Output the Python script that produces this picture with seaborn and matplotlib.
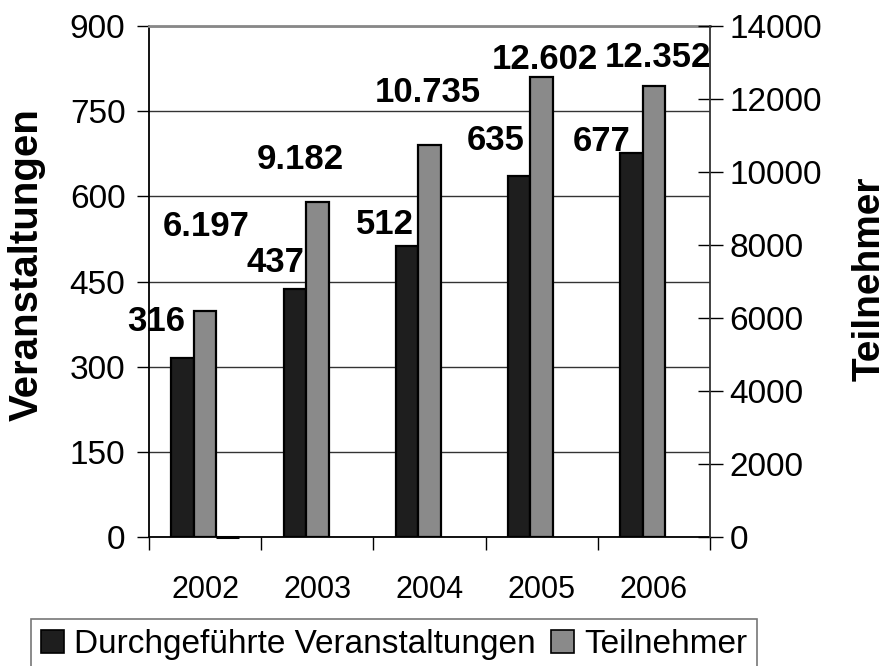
import numpy as np
import pandas as pd
import matplotlib
matplotlib.use("Agg")
import matplotlib.pyplot as plt
import seaborn as sns
from matplotlib.patches import Patch

# ---- data ----
years = ["2002", "2003", "2004", "2005", "2006"]
veranstaltungen = [316, 437, 512, 635, 677]
teilnehmer = [6197, 9182, 10735, 12602, 12352]
teilnehmer_labels = ["6.197", "9.182", "10.735", "12.602", "12.352"]
extra_years = ["2002"]
extra_vals = [0]

series_names = ["Durchgeführte Veranstaltungen", "Teilnehmer", "extra"]

# label offsets in pixels (style)
off_dark = [(-26, 36), (-19, 26), (-22, 22), (-24, 36), (-30, 11)]
off_gray = [(1, 84), (-17, 42), (-2, 53), (3, 18), (4, 29)]

sns.set_theme(style="white")
plt.rcParams["font.family"] = ["Liberation Sans", "DejaVu Sans"]
plt.rcParams["text.color"] = "black"
plt.rcParams["xtick.color"] = "black"
plt.rcParams["ytick.color"] = "black"
plt.rcParams["axes.labelcolor"] = "black"

dark = "#1e1e1e"
gray = "#8a8a8a"

df1 = pd.DataFrame({
    "year": years + extra_years,
    "value": veranstaltungen + extra_vals,
    "series": [series_names[0]] * len(years) + [series_names[2]] * len(extra_years),
})
df2 = pd.DataFrame({
    "year": years,
    "value": teilnehmer,
    "series": [series_names[1]] * len(years),
})
palette = {series_names[0]: dark, series_names[1]: gray, series_names[2]: dark}

fig = plt.figure(figsize=(8.88, 6.66), dpi=100)
ax1 = fig.add_axes([149 / 888, 1 - 537 / 666, (710 - 149) / 888, (537 - 26) / 666])
ax2 = ax1.twinx()

sns.barplot(data=df1, x="year", y="value", hue="series", hue_order=series_names,
            order=years, palette=palette, width=0.6, dodge=True, ax=ax1,
            edgecolor="black", linewidth=1.6, legend=False, errorbar=None, zorder=3)
sns.barplot(data=df2, x="year", y="value", hue="series", hue_order=series_names,
            order=years, palette=palette, width=0.6, dodge=True, ax=ax2,
            edgecolor="black", linewidth=1.6, legend=False, errorbar=None, zorder=3)

# zero-height bar: keep its edge visible on the baseline
for p in ax1.patches:
    if p.get_height() == 0:
        p.set_clip_on(False)
        p.set_linewidth(2.2)
        p.set_zorder(6)

ax1.set_xlim(-0.5, len(years) - 0.5)
ax2.set_xlim(-0.5, len(years) - 0.5)
ax1.set_ylim(0, 900)
ax2.set_ylim(0, 14000)
ax1.set_yticks(np.arange(0, 901, 150))
ax2.set_yticks(np.arange(0, 14001, 2000))

ax1.yaxis.grid(True, color="#333333", linewidth=1.0)
ax1.set_axisbelow(True)
ax1.set_xlabel("")
ax1.set_ylabel("")
ax2.set_ylabel("")
ax2.set_xlabel("")

fs_x = 22
fs_y = 24
ax1.set_xticks(np.arange(-0.5, len(years), 1))
ax1.set_xticklabels([])
ax1.set_xticks(np.arange(len(years)), minor=True)
ax1.set_xticklabels(years, minor=True, fontsize=fs_x)
ax1.tick_params(axis="x", which="major", direction="out", length=9, width=1, color="black", bottom=True)
ax1.tick_params(axis="x", which="minor", length=0, pad=27)
ax1.tick_params(axis="y", direction="out", length=9, width=1, color="black", left=True, labelsize=fs_y, pad=8)
ax2.tick_params(axis="y", direction="inout", length=18, width=1, color="black", right=True, labelsize=fs_y, pad=5)

for sp in ["left", "bottom"]:
    ax1.spines[sp].set_color("black")
    ax1.spines[sp].set_linewidth(1.3)
ax1.spines["top"].set_color("#888888")
ax1.spines["top"].set_linewidth(2)
ax1.spines["right"].set_visible(False)
ax2.spines["top"].set_visible(False)
ax2.spines["left"].set_visible(False)
ax2.spines["bottom"].set_visible(False)
ax2.spines["right"].set_color("#333333")
ax2.spines["right"].set_linewidth(1.3)

# value labels
bw = 0.2
for i, v in enumerate(veranstaltungen):
    ax1.annotate(str(v), xy=(i - bw, v), xytext=off_dark[i], textcoords="offset pixels",
                 ha="center", va="center", fontsize=25, fontweight="bold", zorder=5)
for i, v in enumerate(teilnehmer):
    ax2.annotate(teilnehmer_labels[i], xy=(i, v), xytext=off_gray[i], textcoords="offset pixels",
                 ha="center", va="center", fontsize=25, fontweight="bold", zorder=5,
                 annotation_clip=False)

fig.text(27 / 888, 1 - 265 / 666, "Veranstaltungen", rotation=90, ha="center", va="center",
         fontsize=29, fontweight="bold")
fig.text(870 / 888, 1 - 279 / 666, "Teilnehmer", rotation=90, ha="center", va="center",
         fontsize=28, fontweight="bold")

handles = [Patch(facecolor=dark, edgecolor="black", linewidth=1.2),
           Patch(facecolor=gray, edgecolor="black", linewidth=1.2)]
leg = fig.legend(handles, series_names[:2], loc="upper left",
                 bbox_to_anchor=(31 / 888, 1 - 619 / 666), ncol=2, fontsize=24,
                 frameon=True, fancybox=False, edgecolor="#555555",
                 handlelength=0.7, handleheight=0.7, handletextpad=0.3,
                 columnspacing=0.45, borderpad=0.3, borderaxespad=0)
leg.get_frame().set_linewidth(1.2)

fig.savefig("out.png", dpi=100)
